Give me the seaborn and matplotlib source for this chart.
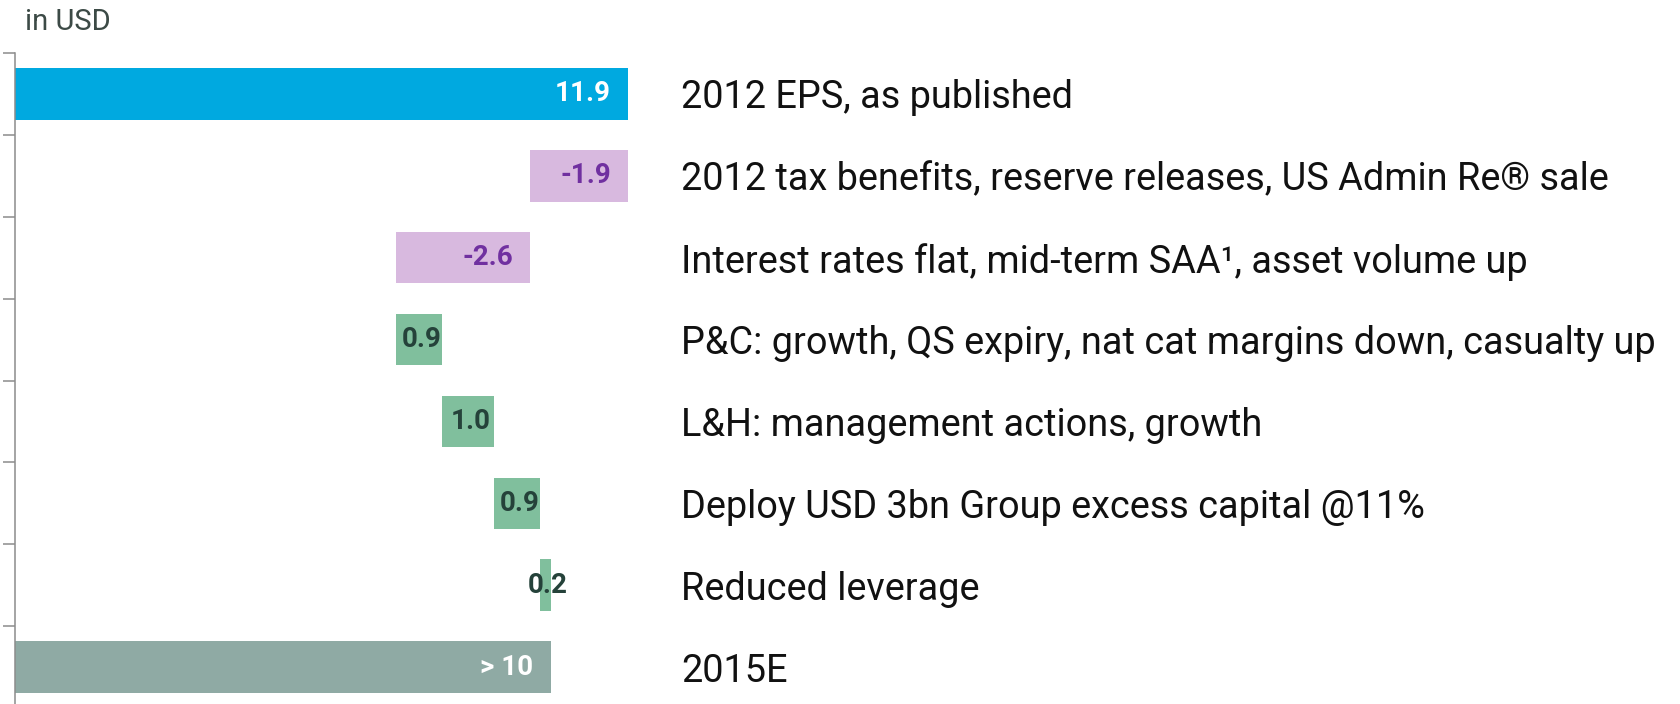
import numpy as np
import pandas as pd
import matplotlib
matplotlib.use("Agg")
import matplotlib.pyplot as plt
import seaborn as sns

categories = [
    "2012 EPS, as published",
    "2012 tax benefits, reserve releases, US Admin Re® sale",
    "Interest rates flat, mid-term SAA¹, asset volume up",
    "P&C: growth, QS expiry, nat cat margins down, casualty up",
    "L&H: management actions, growth",
    "Deploy USD 3bn Group excess capital @11%",
    "Reduced leverage",
    "2015E",
]
values = [11.9, -1.9, -2.6, 0.9, 1.0, 0.9, 0.2, 10.4]
kinds = ["total", "delta", "delta", "delta", "delta", "delta", "delta", "total"]
value_labels = ["11.9", "-1.9", "-2.6", "0.9", "1.0", "0.9", "0.2", "> 10"]
unit_label = "in USD"

colors = ["#00A9E0", "#D8B9DF", "#D8B9DF", "#80BF9D", "#80BF9D", "#80BF9D", "#80BF9D", "#8FAAA4"]
label_colors = ["#FFFFFF", "#7030A0", "#7030A0", "#25423A", "#25423A", "#25423A", "#25423A", "#FFFFFF"]

# waterfall geometry from data
lefts, widths = [], []
running = 0.0
for v, k in zip(values, kinds):
    if k == "total":
        lefts.append(0.0)
        widths.append(v)
        running = v
    else:
        end = running + v
        lefts.append(min(running, end))
        widths.append(abs(v))
        running = end

df = pd.DataFrame({"cat": categories, "width": widths})

sns.set_theme(style="white")
plt.rcParams["font.family"] = ["Roboto", "DejaVu Sans"]

fig = plt.figure(figsize=(16.8, 7.04), dpi=100)
ax = fig.add_axes([15 / 1680, -4 / 704, 12.2 * 51.5 / 1680, 655 / 704])

sns.barplot(data=df, x="width", y="cat", hue="cat", order=categories, hue_order=categories,
            palette=colors, orient="h", width=0.63, legend=False, ax=ax, saturation=1)

for cont, left in zip(ax.containers, lefts):
    for p in cont.patches:
        p.set_x(left)
        p.set_edgecolor("none")

ax.set_xlim(0, 12.2)
ax.set_ylim(7.5, -0.5)
ax.set_yticks(np.arange(-0.5, 7.0, 1.0))
ax.set_yticklabels([])
ax.set_xticks([])
ax.set_xlabel("")
ax.set_ylabel("")
for s in ["top", "right", "bottom"]:
    ax.spines[s].set_visible(False)
ax.spines["left"].set_color("#8C8C8C")
ax.spines["left"].set_linewidth(1.1)
ax.tick_params(axis="y", which="major", left=True, length=8.5, width=1.1, color="#8C8C8C", pad=0)

for i, (lab, k, v) in enumerate(zip(value_labels, kinds, values)):
    l, w = lefts[i], widths[i]
    if k == "total" or v < 0:
        ax.text(l + w - 0.33, i, lab, ha="right", va="center", fontsize=20,
                fontweight="bold", color=label_colors[i])
    else:
        ax.text(l + w / 2 + 0.05, i, lab, ha="center", va="center", fontsize=20,
                fontweight="bold", color=label_colors[i])

trans = matplotlib.transforms.blended_transform_factory(fig.transFigure, ax.transData)
for i, c in enumerate(categories):
    ax.text(681 / 1680, i, c, transform=trans, ha="left", va="center_baseline",
            fontsize=27.3, color="#111111", clip_on=False)

fig.text(25 / 1680, 1 - 30 / 704, unit_label, ha="left", va="baseline",
         fontsize=21, color="#3C4A46")

fig.savefig("out.png", dpi=100)
